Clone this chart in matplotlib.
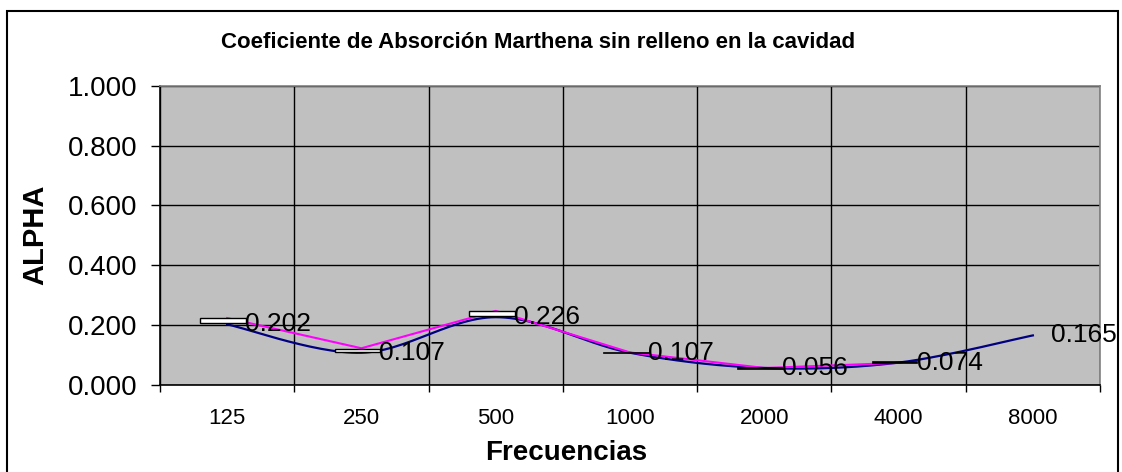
import numpy as np
import matplotlib.pyplot as plt
from matplotlib.patches import Rectangle

plt.rcParams['font.family'] = ['Liberation Sans', 'DejaVu Sans']

# Categories (frequency bands, Hz)
frequencies = ['125', '250', '500', '1000', '2000', '4000', '8000']

# Labelled series (navy, smoothed)
alpha_navy = [0.202, 0.107, 0.226, 0.107, 0.056, 0.074, 0.165]
# Second series (magenta), no value at 8000
alpha_magenta = [0.223, 0.122, 0.247, 0.108, 0.056, 0.073]
# Floating up/down bars (low, high)
bar_low = [0.205, 0.110, 0.231, 0.107, 0.056, 0.076]
bar_high = [0.224, 0.120, 0.248, 0.107, 0.056, 0.076]


def smooth(xs, ys, n=30):
    # Catmull-Rom spline through the points (like Excel's smoothed line)
    pts = np.column_stack([xs, ys]).astype(float)
    pts = np.vstack([pts[0], pts, pts[-1]])
    out = []
    for i in range(1, len(pts) - 2):
        p0, p1, p2, p3 = pts[i - 1], pts[i], pts[i + 1], pts[i + 2]
        t = np.linspace(0, 1, n)[:, None]
        seg = 0.5 * ((2 * p1) + (-p0 + p2) * t + (2 * p0 - 5 * p1 + 4 * p2 - p3) * t ** 2
                     + (-p0 + 3 * p1 - 3 * p2 + p3) * t ** 3)
        out.append(seg)
    out = np.vstack(out)
    return out[:, 0], out[:, 1]


fig = plt.figure(figsize=(11.22, 4.72), dpi=100)
ax = fig.add_axes([160 / 1122, 1 - 384.7 / 472, 940 / 1122, 298.7 / 472])
ax.set_facecolor('#C0C0C0')

x = np.arange(len(frequencies))

# smoothed navy line
sx, sy = smooth(x, alpha_navy)
ax.plot(sx, sy, color='#000080', lw=1.6, zorder=3)

# magenta line
ax.plot(x[:len(alpha_magenta)], alpha_magenta, color='#FF00FF', lw=1.5, zorder=4)

# up/down bars
xb = x[:len(bar_low)] - 0.03
for xi, lo, hi in zip(xb, bar_low, bar_high):
    h = hi - lo
    if h > 0.001:
        ax.bar(xi, h, bottom=lo, width=0.34, color='white', edgecolor='black', lw=1, zorder=5)
    else:
        ax.bar(xi, 0.004, bottom=lo - 0.002, width=0.34, color='black', edgecolor='black', lw=0.5, zorder=5)

# data labels
for xi, v in zip(x, alpha_navy):
    ax.annotate(f'{v:.3f}', (xi, v), xytext=(13, 0), textcoords='offset points',
                ha='left', va='center', fontsize=19, zorder=6)

ax.set_xlim(-0.5, len(frequencies) - 0.5)
ax.set_ylim(0, 1)
ax.set_yticks(np.arange(0, 1.01, 0.2))
ax.set_yticklabels([f'{v:.3f}' for v in np.arange(0, 1.01, 0.2)], fontsize=20)
ax.set_xticks(np.arange(-0.5, len(frequencies), 1.0))
ax.set_xticklabels([])
ax.set_xticks(x, minor=True)
ax.set_xticklabels(frequencies, minor=True, fontsize=16)
ax.tick_params(axis='x', which='minor', length=0, pad=17)
ax.tick_params(axis='x', which='major', length=5, width=1, direction='out', color='black')
ax.tick_params(axis='y', length=6.5, width=1, direction='out', pad=10)

ax.grid(True, which='major', color='black', lw=1)
ax.set_axisbelow(True)
for s in ['left', 'bottom']:
    ax.spines[s].set_color('black')
    ax.spines[s].set_linewidth(1.2)
for s in ['top', 'right']:
    ax.spines[s].set_color('#808080')
    ax.spines[s].set_linewidth(1.2)

fig.text(538 / 1122, 1 - 42 / 472, 'Coeficiente de Absorción Marthena sin relleno en la cavidad',
         ha='center', va='center', fontsize=16, fontweight='bold')
fig.text(35 / 1122, 1 - 235 / 472, 'ALPHA', rotation=90, ha='center', va='center',
         fontsize=21, fontweight='bold')
fig.text(566 / 1122, 1 - 453 / 472, 'Frecuencias', ha='center', va='center',
         fontsize=20, fontweight='bold')

# outer chart border
fig.patches.append(Rectangle((7 / 1122, -0.05), 1111 / 1122, 1.05 - 11 / 472,
                             transform=fig.transFigure, fill=False, edgecolor='black', lw=1.5))

fig.savefig('out.png', dpi=100)
